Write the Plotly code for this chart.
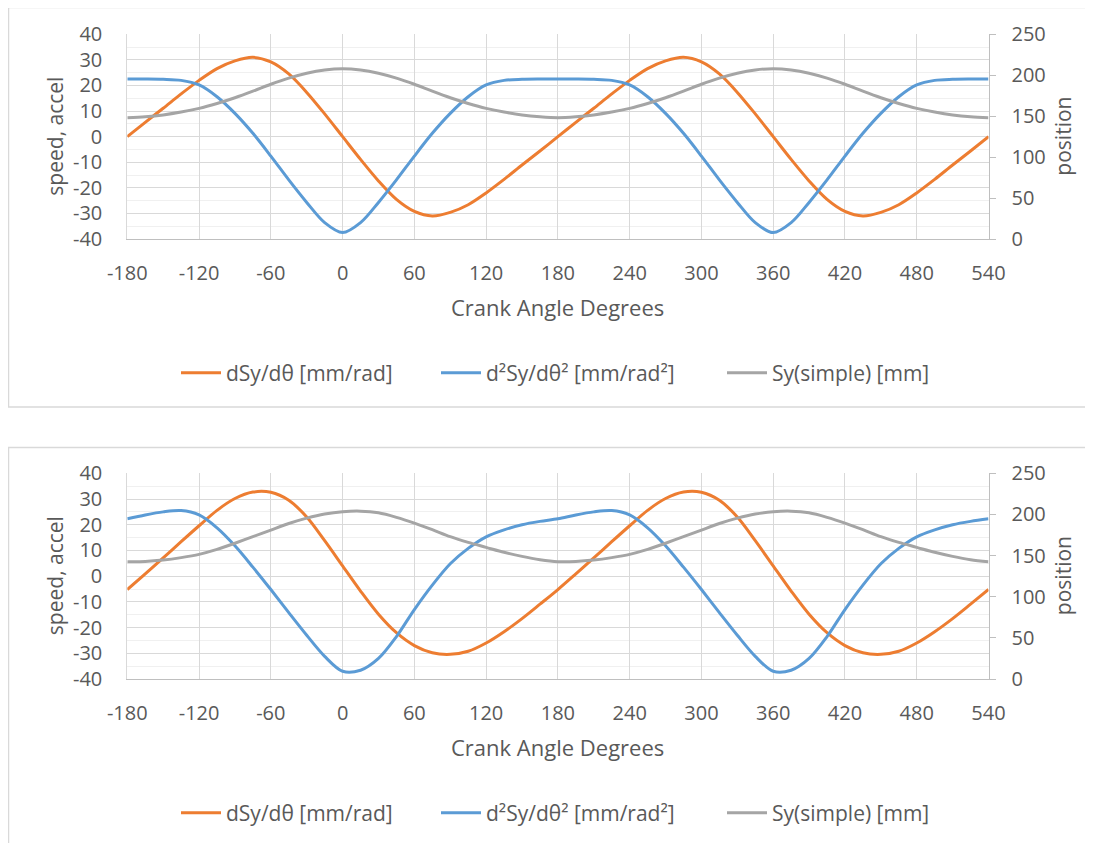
import plotly.graph_objects as go

# ---------------- data ----------------
angles = list(range(-180, 541, 15))

# Chart 1 (one cycle -180..180; chart repeats every 360 deg)
c1_speed_cycle = [0, 5.6, 11.1, 16.7, 22.0, 26.6, 29.6, 31.0, 29.2, 24.5, 17.3, 8.9, 0,
                  -8.9, -17.3, -24.5, -29.2, -31.0, -29.6, -26.6, -22.0, -16.7, -11.1, -5.6, 0]
c1_accel_cycle = [22.5, 22.5, 22.4, 22.0, 20.2, 15.6, 9.1, 1.3, -7.6, -16.9, -25.7, -33.6, -37.5,
                  -33.6, -25.7, -16.9, -7.6, 1.3, 9.1, 15.6, 20.2, 22.0, 22.4, 22.5, 22.5]
c1_pos_cycle = [148.2, 149.3, 151.5, 155.0, 159.5, 165.5, 172.5, 180.5, 189.0, 196.5, 202.5, 206.5, 208.0,
                206.5, 202.5, 196.5, 189.0, 180.5, 172.5, 165.5, 159.5, 155.0, 151.5, 149.3, 148.2]

# Chart 2
c2_speed_cycle = [-5.2, 0.9, 7.1, 13.4, 19.6, 25.6, 30.2, 32.7, 32.6, 29.5, 23.0, 13.8, 4.0,
                  -5.8, -14.8, -22.0, -27.0, -29.8, -30.4, -29.2, -26.0, -21.6, -16.5, -10.9, -5.2]
c2_accel_cycle = [22.3, 23.8, 25.0, 25.5, 23.8, 18.8, 11.8, 3.5, -5.2, -14.2, -23.0, -31.2, -37.0,
                  -36.6, -32.0, -23.5, -13.0, -3.5, 4.8, 10.8, 15.3, 18.0, 20.0, 21.3, 22.3]
c2_pos_cycle = [142.6, 142.8, 144.5, 147.5, 151.5, 157.5, 165.0, 173.0, 181.0, 189.0, 195.5, 200.5, 203.3,
                204.0, 202.0, 196.5, 189.5, 181.5, 173.0, 166.0, 160.0, 154.0, 149.0, 145.0, 142.6]

def two_cycles(c):
    return c + c[1:]

x_ticks = list(range(-180, 541, 60))
y_ticks = list(range(-40, 41, 10))
y2_ticks = list(range(0, 251, 50))
names = ["dSy/dθ [mm/rad]", "d²Sy/dθ² [mm/rad²]", "Sy(simple) [mm]"]
colors = ["#ED7D31", "#5B9BD5", "#A5A5A5"]
legend_widths = [205, 231, 175]

# ---------------- layout helpers ----------------
W, H = 1093, 843
OFF = 8  # page body margin
FONT = "Open Sans"
TXT = "#595959"

def px_x(p):
    return (p - OFF) / W

def px_y(p):
    return 1 - (p - OFF) / H

fig = go.Figure()

charts = [
    dict(speed=c1_speed_cycle, accel=c1_accel_cycle, pos=c1_pos_cycle,
         xa="x", ya="y", ya2="y2", legend="legend"),
    dict(speed=c2_speed_cycle, accel=c2_accel_cycle, pos=c2_pos_cycle,
         xa="x2", ya="y3", ya2="y4", legend="legend2"),
]

for ch in charts:
    series = [two_cycles(ch["speed"]), two_cycles(ch["accel"]), two_cycles(ch["pos"])]
    for i, (nm, col, ys) in enumerate(zip(names, colors, series)):
        fig.add_trace(go.Scatter(
            x=angles, y=ys, name=nm, mode="lines",
            line=dict(color=col, width=3, shape="spline", smoothing=0.9),
            xaxis=ch["xa"], yaxis=(ch["ya2"] if i == 2 else ch["ya"]),
            legend=ch["legend"], legendwidth=legend_widths[i], hoverinfo="skip",
        ))

x_dom = [px_x(127.3), px_x(988.5)]
plot_boxes = [(34.3, 239.0), (473.3, 679.0)]

TICKFONT = dict(family=FONT, size=20, color=TXT)
common_x = dict(range=[-180, 540], tickmode="array", tickvals=x_ticks,
                ticktext=[str(v) for v in x_ticks], showgrid=True, gridcolor="#D9D9D9",
                gridwidth=1, showline=True, linecolor="#BFBFBF", linewidth=1, zeroline=False,
                ticks="", tickfont=TICKFONT, ticklabelstandoff=16,
                domain=x_dom, automargin=False)
common_y = dict(range=[-40, 40], tickmode="array", tickvals=y_ticks,
                ticktext=[str(v) for v in y_ticks], showgrid=True, gridcolor="#D9D9D9", gridwidth=1,
                minor=dict(tickmode="linear", tick0=-40, dtick=5, showgrid=True,
                           gridcolor="#F0F0F0", gridwidth=1),
                showline=True, linecolor="#D9D9D9", zeroline=False, ticks="",
                tickfont=TICKFONT, ticklabelstandoff=20, automargin=False)
common_y2 = dict(range=[0, 250], tickmode="array", tickvals=y2_ticks,
                 ticktext=[str(v) for v in y2_ticks], showgrid=False, side="right", showline=True,
                 linecolor="#BFBFBF", ticks="outside", ticklen=6, tickcolor="#BFBFBF",
                 zeroline=False, tickfont=TICKFONT, ticklabelstandoff=12, automargin=False)

(t1, b1), (t2, b2) = plot_boxes
LEGFONT = dict(family=FONT, size=21, color=TXT)
fig.update_layout(
    width=W, height=H, margin=dict(l=0, r=0, t=0, b=0, autoexpand=False),
    paper_bgcolor="white", plot_bgcolor="white",
    font=dict(family=FONT, color=TXT),
    xaxis=dict(common_x, anchor="y"),
    yaxis=dict(common_y, anchor="x", domain=[px_y(b1), px_y(t1)]),
    yaxis2=dict(common_y2, anchor="x", overlaying="y"),
    xaxis2=dict(common_x, anchor="y3"),
    yaxis3=dict(common_y, anchor="x2", domain=[px_y(b2), px_y(t2)]),
    yaxis4=dict(common_y2, anchor="x2", overlaying="y3"),
    legend=dict(orientation="h", x=px_x(176), xanchor="left", y=px_y(373), yanchor="middle",
                itemwidth=40, font=LEGFONT, bgcolor="rgba(0,0,0,0)"),
    legend2=dict(orientation="h", x=px_x(176), xanchor="left", y=px_y(813), yanchor="middle",
                 itemwidth=40, font=LEGFONT, bgcolor="rgba(0,0,0,0)"),
    showlegend=True,
)

annotations = []
for top, bot, xt_y in [(t1, b1, 307), (t2, b2, 747)]:
    mid = (top + bot) / 2
    annotations.append(dict(text="speed, accel", x=px_x(55), y=px_y(mid), xref="paper", yref="paper",
                            textangle=-90, showarrow=False, font=dict(family=FONT, size=21, color=TXT),
                            xanchor="center", yanchor="middle"))
    annotations.append(dict(text="position", x=px_x(1063), y=px_y(mid), xref="paper", yref="paper",
                            textangle=-90, showarrow=False, font=dict(family=FONT, size=21, color=TXT),
                            xanchor="center", yanchor="middle"))
    annotations.append(dict(text="Crank Angle Degrees", x=px_x(557), y=px_y(xt_y), xref="paper",
                            yref="paper", showarrow=False, font=dict(family=FONT, size=22, color=TXT),
                            xanchor="center", yanchor="middle"))
fig.update_layout(annotations=annotations)

# chart frames
fig.add_shape(type="rect", xref="paper", yref="paper", x0=px_x(8.5), x1=px_x(1115),
              y0=px_y(407), y1=px_y(7.5), line=dict(color="#D9D9D9", width=1.5), layer="below")
fig.add_shape(type="rect", xref="paper", yref="paper", x0=px_x(8.5), x1=px_x(1115),
              y0=px_y(880), y1=px_y(447.5), line=dict(color="#D9D9D9", width=1.5), layer="below")

fig.write_html("out.html")
